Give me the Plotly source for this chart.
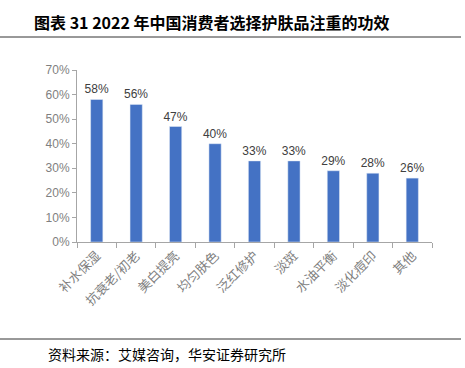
import plotly.graph_objects as go

categories = ["补水保湿", "抗衰老/初老", "美白提亮", "均匀肤色", "泛红修护", "淡斑", "水油平衡", "淡化痘印", "其他"]
values = [0.58, 0.56, 0.47, 0.40, 0.33, 0.33, 0.29, 0.28, 0.26]
labels = ["58%", "56%", "47%", "40%", "33%", "33%", "29%", "28%", "26%"]

W, H = 465, 368
L, R, T, B = 77, 33, 70, 126
pw, ph = W - L - R, H - T - B

def px(x):
    return (x - L) / pw

def py(y):
    return 1 - (y - T) / ph

CJK = "Noto Sans CJK SC"

fig = go.Figure(go.Bar(
    x=categories, y=values, marker_color="#4472C4", width=0.31,
    text=labels, textposition="outside", cliponaxis=False, constraintext="none",
    textfont=dict(family="Liberation Sans, Arial", size=12, color="#404040"),
))

fig.update_layout(
    width=W, height=H, margin=dict(l=L, r=R, t=T, b=B, autoexpand=False),
    paper_bgcolor="white", plot_bgcolor="white", showlegend=False,
    bargap=0.6,
    xaxis=dict(showline=True, linecolor="#a6a6a6", linewidth=1, ticks="outside",
               tickson="boundaries", ticklen=5, tickcolor="#a6a6a6", tickangle=-45,
               automargin=False,
               tickfont=dict(family=CJK, size=13, color="#7f7f7f"), showgrid=False),
    yaxis=dict(range=[0, 0.7], dtick=0.1, tickformat=".0%", showline=True,
               linecolor="#a6a6a6", linewidth=1, ticks="outside", ticklen=4,
               tickcolor="#a6a6a6", showgrid=False, zeroline=False, automargin=False,
               tickfont=dict(family="Liberation Sans, Arial", size=12, color="#7f7f7f")),
    shapes=[
        dict(type="line", xref="paper", yref="paper", x0=px(0), x1=px(461), y0=py(37), y1=py(37),
             line=dict(color="#333333", width=1)),
        dict(type="line", xref="paper", yref="paper", x0=px(0), x1=px(461), y0=py(339), y1=py(339),
             line=dict(color="#333333", width=1)),
    ],
    annotations=[
        dict(text="<b>图表 31 2022 年中国消费者选择护肤品注重的功效</b>", xref="paper", yref="paper",
             x=px(32), y=py(22), xanchor="left", yanchor="middle", showarrow=False,
             font=dict(family=CJK, size=16, color="#000000")),
        dict(text="资料来源：艾媒咨询，华安证券研究所", xref="paper", yref="paper",
             x=px(46), y=py(354), xanchor="left", yanchor="middle", showarrow=False,
             font=dict(family=CJK, size=14, color="#000000")),
    ],
)

fig.write_html("out.html", config={"displayModeBar": False},
               post_script="document.body.style.margin='0';document.body.style.overflow='hidden';")
